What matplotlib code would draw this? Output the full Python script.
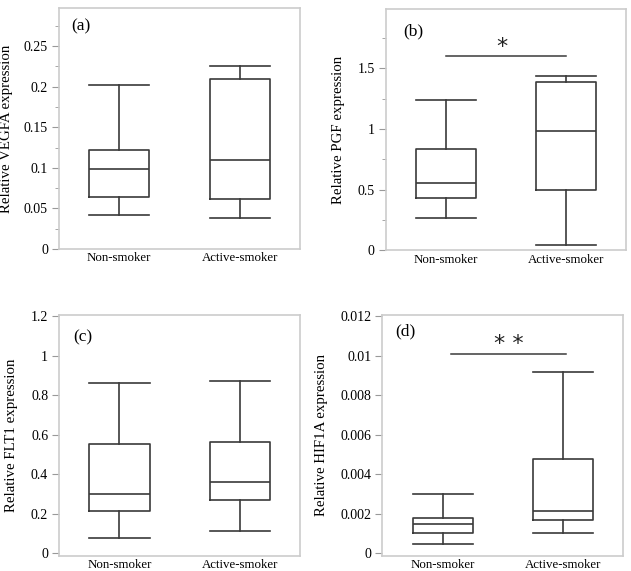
import matplotlib
matplotlib.use('Agg')
import matplotlib.pyplot as plt
from matplotlib.ticker import MultipleLocator

plt.rcParams['font.family'] = ['Liberation Serif', 'DejaVu Serif']

groups = ['Non-smoker', 'Active-smoker']

# box stats: whislo, q1, med, q3, whishi per group
vegfa = [[0.042, 0.064, 0.0988, 0.122, 0.202],
         [0.038, 0.0614, 0.1095, 0.210, 0.225]]
pgf = [[0.266, 0.432, 0.553, 0.836, 1.243],
       [0.042, 0.498, 0.98, 1.387, 1.434]]
flt1 = [[0.079, 0.216, 0.298, 0.553, 0.863],
        [0.113, 0.271, 0.361, 0.564, 0.871]]
hif1a = [[0.000454, 0.00101, 0.00146, 0.0018, 0.002975],
         [0.00101, 0.00171, 0.00213, 0.00477, 0.00919]]

panels = [
    dict(stats=vegfa, label='(a)', ylabel='Relative VEGFA expression',
         ylim=(0, 0.297), major=0.05, minor=0.025,
         rect=[0.0935, 0.564, 0.382, 0.422], lab_xy=(0.05, 0.925),
         ylab_x=-0.19, sig=None),
    dict(stats=pgf, label='(b)', ylabel='Relative PGF expression',
         ylim=(0, 1.99), major=0.5, minor=0.25,
         rect=[0.6117, 0.5617, 0.380, 0.4226], lab_xy=(0.07, 0.907),
         ylab_x=-0.17, sig=(0.0, 1.0, 1.6, 0.467, 1.68, '*')),
    dict(stats=flt1, label='(c)', ylabel='Relative FLT1 expression',
         ylim=(-0.012, 1.205), major=0.2, minor=None,
         rect=[0.094, 0.0268, 0.3815, 0.4215], lab_xy=(0.057, 0.909),
         ylab_x=-0.17, sig=None),
    dict(stats=hif1a, label='(d)', ylabel='Relative HIF1A expression',
         ylim=(-0.00012, 0.01205), major=0.002, minor=None,
         rect=[0.606, 0.0268, 0.382, 0.4215], lab_xy=(0.054, 0.93),
         ylab_x=-0.225, sig=(0.07, 1.02, 0.01008, 0.547, 0.0106, '* *')),
]

fig = plt.figure(figsize=(6.31, 5.71), dpi=100)
line_c = '#3a3a3a'
frame_c = '#cccccc'

for p in panels:
    ax = fig.add_axes(p['rect'])
    bstats = []
    for name, s in zip(groups, p['stats']):
        bstats.append(dict(label=name, whislo=s[0], q1=s[1], med=s[2], q3=s[3],
                           whishi=s[4], fliers=[]))
    lp = dict(color=line_c, linewidth=1.2)
    ax.bxp(bstats, positions=[0, 1], widths=0.5, showfliers=False,
           boxprops=lp, whiskerprops=lp, capprops=lp, medianprops=lp,
           capwidths=0.5)
    ax.set_xlim(-0.5, 1.5)
    ax.set_ylim(*p['ylim'])
    ax.yaxis.set_major_locator(MultipleLocator(p['major']))
    if p['minor']:
        ax.yaxis.set_minor_locator(MultipleLocator(p['minor']))
    ax.yaxis.set_major_formatter(plt.FuncFormatter(lambda v, _: '{:g}'.format(round(v, 6))))
    for sp in ax.spines.values():
        sp.set_color(frame_c)
        sp.set_linewidth(1.2)
    ax.tick_params(axis='y', which='both', direction='out', length=5,
                   color='#999999', labelsize=10, pad=3)
    ax.tick_params(axis='y', which='minor', length=3)
    ax.tick_params(axis='x', length=0, labelsize=9.3, pad=2.5)
    ax.set_ylabel(p['ylabel'], fontsize=10.7)
    ax.yaxis.set_label_coords(p['ylab_x'], 0.5)
    ax.text(p['lab_xy'][0], p['lab_xy'][1], p['label'], transform=ax.transAxes,
            fontsize=12.5, ha='left', va='center')
    if p['sig']:
        x0, x1, yb, xs, ys, txt = p['sig']
        ax.plot([x0, x1], [yb, yb], color=line_c, linewidth=1.1)
        ax.text(xs, ys, txt, fontsize=16, ha='center',
                va='center', family='DejaVu Sans', color='#222222')

fig.savefig('out.png', dpi=100)
